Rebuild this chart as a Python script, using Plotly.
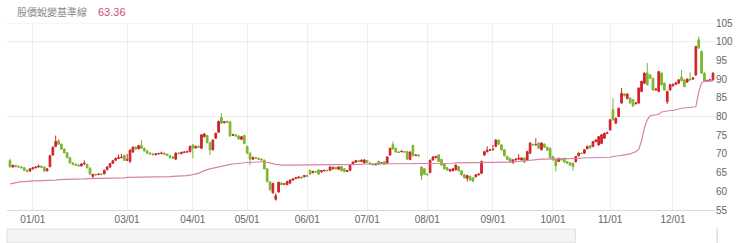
import pandas as pd
import plotly.graph_objects as go

# ---------------- data ----------------
holidays = ["2021-12-31", "2022-01-27", "2022-01-28", "2022-01-31", "2022-02-01",
            "2022-02-02", "2022-02-03", "2022-02-04", "2022-02-28", "2022-04-04",
            "2022-04-05", "2022-05-02", "2022-06-03", "2022-09-09", "2022-10-10"]

open_ = [68.2, 66.5, 66.9, 66.6, 66.5, 66.3, 65.6, 65.4, 66.0, 66.3, 66.5, 66.7, 66.5, 65.5, 66.6, 69.7, 72.0, 73.5, 72.6, 71.3,
         70.3, 69.0, 67.6, 67.2, 67.0, 66.8, 67.3, 67.2, 66.2, 64.0, 64.5, 64.5, 64.6, 64.7, 65.8, 66.5, 67.5, 68.3, 68.8, 69.0,
         69.6, 68.3, 68.0, 70.5, 71.8, 71.4, 72.2, 71.5, 70.8, 70.2, 70.0, 69.8, 70.0, 70.1, 70.2, 69.9, 69.5, 69.2, 68.6, 70.2,
         70.1, 70.4, 70.5, 70.6, 72.4, 71.6, 72.0, 71.5, 74.6, 74.9, 73.0, 71.1, 74.2, 75.8, 79.7, 78.4, 78.7, 78.6, 75.0, 75.1,
         74.8, 73.9, 74.9, 72.0, 70.2, 68.6, 69.0, 68.8, 68.6, 68.3, 66.0, 62.5, 59.6, 57.9, 59.8, 62.2, 61.9, 61.8, 62.2, 63.0,
         63.4, 63.6, 63.8, 63.9, 64.2, 65.6, 65.0, 65.3, 65.7, 65.2, 65.5, 65.6, 65.6, 66.0, 66.4, 65.9, 66.6, 66.0, 65.3, 65.6,
         67.2, 67.8, 68.2, 68.0, 67.6, 68.2, 67.6, 67.3, 67.1, 68.0, 67.5, 67.9, 67.5, 69.7, 72.5, 71.5, 70.5, 70.6, 70.6, 70.6,
         68.5, 72.2, 69.6, 69.7, 66.5, 66.0, 64.6, 65.0, 68.4, 69.0, 69.7, 68.5, 67.3, 66.3, 65.4, 65.5, 65.8, 66.6, 65.5, 64.4,
         63.5, 64.0, 63.6, 63.9, 64.4, 64.8, 69.7, 70.6, 71.0, 71.1, 72.0, 73.7, 72.4, 71.1, 69.3, 68.8, 67.6, 68.4, 68.6, 68.4,
         68.9, 68.4, 70.2, 72.5, 72.4, 72.9, 71.1, 72.6, 71.8, 71.5, 69.3, 68.5, 68.0, 68.6, 68.8, 67.9, 67.6, 67.5, 67.9, 69.5,
         70.2, 70.2, 71.4, 72.2, 72.0, 73.3, 72.4, 72.8, 74.2, 75.5, 76.4, 81.8, 78.2, 80.0, 83.6, 86.0, 84.8, 84.9, 84.5, 83.4,
         83.6, 86.7, 88.9, 91.6, 91.1, 90.2, 87.1, 86.7, 91.6, 88.9, 84.0, 87.1, 88.2, 88.6, 88.9, 90.5, 89.8, 89.2, 90.0, 90.0,
         91.1, 100.5, 97.4, 91.6, 89.5, 89.6, 89.8]

high = [68.7, 67.2, 67.1, 66.9, 66.7, 66.4, 65.8, 66.2, 66.5, 66.7, 67.2, 66.9, 66.6, 66.2, 69.8, 72.0, 74.9, 73.9, 72.8, 71.5,
        70.5, 69.2, 67.8, 67.4, 67.2, 67.5, 68.3, 67.4, 66.4, 64.7, 64.7, 64.8, 64.8, 65.8, 66.7, 67.6, 68.4, 69.0, 69.8, 70.0,
        69.8, 70.0, 71.2, 72.0, 72.0, 72.4, 73.7, 71.7, 71.0, 70.4, 70.3, 70.2, 70.3, 70.6, 70.4, 70.1, 69.7, 69.4, 70.4, 70.5,
        70.6, 70.7, 70.9, 72.2, 72.6, 72.2, 72.3, 75.3, 75.6, 75.1, 73.2, 73.9, 75.7, 78.9, 80.9, 78.8, 78.9, 78.8, 75.4, 75.3,
        75.0, 74.8, 75.1, 72.2, 70.4, 69.3, 69.2, 69.0, 68.8, 68.5, 66.2, 62.7, 62.3, 59.5, 62.6, 62.5, 62.2, 62.8, 63.2, 63.5,
        63.8, 64.0, 64.0, 64.4, 64.5, 65.8, 65.5, 65.5, 65.9, 65.7, 65.8, 65.8, 66.7, 66.6, 66.6, 66.7, 66.8, 66.2, 65.7, 67.2,
        68.0, 68.4, 68.4, 68.5, 68.6, 68.4, 67.8, 67.5, 67.5, 68.2, 67.8, 68.1, 69.4, 71.7, 73.3, 71.7, 70.7, 70.9, 70.8, 70.8,
        70.7, 72.5, 69.9, 69.9, 66.7, 66.2, 64.8, 68.5, 69.4, 69.5, 69.9, 68.7, 67.5, 66.5, 66.0, 66.2, 67.2, 66.8, 65.7, 64.6,
        64.4, 64.2, 63.8, 64.6, 64.8, 68.2, 70.8, 72.0, 71.3, 72.4, 73.9, 73.9, 72.6, 71.3, 69.5, 69.0, 68.6, 68.8, 70.0, 69.1,
        69.1, 70.8, 73.1, 72.8, 74.2, 73.1, 73.1, 72.8, 72.0, 71.7, 69.5, 68.7, 69.0, 68.8, 69.0, 68.1, 67.8, 67.7, 69.5, 70.4,
        70.4, 71.3, 72.2, 72.4, 73.5, 74.0, 74.8, 75.3, 75.7, 76.0, 79.3, 84.9, 79.7, 82.4, 87.6, 86.3, 86.3, 85.2, 84.7, 83.9,
        87.8, 89.6, 91.8, 94.3, 91.3, 90.4, 87.6, 92.2, 91.8, 89.1, 86.9, 88.7, 88.8, 89.2, 90.0, 92.5, 90.0, 90.2, 91.8, 90.5,
        98.9, 101.4, 97.6, 91.8, 89.9, 90.0, 91.8]

low = [66.2, 66.3, 66.4, 66.3, 66.1, 65.5, 65.1, 65.2, 65.8, 66.1, 66.3, 66.2, 65.2, 65.3, 66.4, 69.5, 71.8, 72.4, 71.1, 70.1,
       68.8, 67.4, 67.0, 66.8, 66.6, 66.6, 67.1, 66.1, 64.4, 63.5, 64.2, 64.3, 64.3, 64.5, 65.6, 66.3, 67.3, 68.1, 68.6, 68.8,
       68.1, 68.1, 67.5, 70.3, 71.1, 71.2, 71.3, 70.6, 70.0, 69.8, 69.6, 69.6, 69.8, 69.9, 69.7, 69.4, 68.8, 68.6, 68.4, 69.9,
       69.9, 70.2, 70.3, 70.4, 68.8, 71.4, 71.6, 71.3, 74.4, 72.8, 69.7, 70.9, 74.0, 75.6, 78.0, 78.1, 78.2, 74.6, 74.8, 74.6,
       73.8, 73.7, 72.6, 70.0, 67.0, 68.4, 68.6, 68.4, 68.2, 65.8, 62.4, 60.0, 59.4, 57.5, 59.6, 61.6, 61.7, 61.6, 62.0, 62.8,
       63.2, 63.4, 63.4, 63.7, 63.8, 64.4, 64.8, 64.9, 64.4, 65.0, 65.3, 65.3, 65.4, 65.8, 65.8, 65.7, 65.3, 65.1, 65.1, 65.4,
       67.0, 67.6, 67.8, 67.8, 67.4, 67.6, 67.1, 66.9, 66.9, 67.0, 67.3, 67.0, 67.3, 69.5, 71.1, 70.3, 70.2, 70.4, 70.3, 68.4,
       68.3, 69.3, 69.4, 69.3, 63.0, 64.4, 64.2, 64.8, 68.2, 68.8, 67.8, 66.8, 65.8, 65.5, 65.2, 65.3, 65.6, 65.3, 64.2, 63.4,
       62.6, 62.8, 62.5, 63.7, 64.2, 64.6, 69.5, 70.4, 70.8, 70.9, 71.8, 72.4, 70.9, 69.3, 68.3, 67.8, 67.4, 68.2, 68.4, 68.2,
       67.6, 68.2, 70.0, 72.2, 72.2, 71.3, 70.9, 71.6, 70.8, 68.8, 68.2, 65.3, 67.8, 68.2, 67.6, 67.3, 66.8, 65.5, 67.7, 69.3,
       69.9, 70.0, 71.2, 71.4, 71.8, 73.1, 72.2, 72.6, 74.0, 75.3, 76.2, 78.9, 78.0, 79.8, 83.4, 85.3, 84.6, 83.4, 82.6, 83.2,
       83.4, 86.5, 88.7, 88.3, 90.0, 86.9, 86.9, 86.5, 88.3, 86.9, 83.3, 86.9, 88.0, 88.4, 88.7, 89.4, 87.8, 89.0, 89.6, 89.8,
       90.9, 98.1, 91.4, 89.2, 89.3, 89.4, 89.6]

close = [66.6, 66.9, 66.6, 66.5, 66.3, 65.6, 65.3, 66.0, 66.3, 66.5, 66.7, 66.4, 65.4, 66.0, 69.5, 71.8, 73.3, 72.6, 71.3, 70.3,
         69.0, 67.6, 67.2, 67.0, 66.8, 67.3, 67.5, 66.3, 64.6, 64.5, 64.4, 64.6, 64.5, 65.6, 66.5, 67.4, 68.2, 68.8, 69.0, 69.1,
         68.3, 68.4, 71.0, 71.8, 71.3, 72.2, 71.5, 70.8, 70.2, 70.0, 69.8, 70.0, 70.1, 70.2, 69.9, 69.6, 69.0, 68.8, 70.2, 70.1,
         70.4, 70.5, 70.6, 72.0, 71.5, 72.0, 71.8, 75.1, 75.3, 73.0, 71.1, 73.7, 75.5, 78.7, 78.2, 78.6, 78.4, 74.8, 75.1, 74.8,
         74.0, 74.6, 72.8, 70.2, 68.6, 69.0, 68.8, 68.6, 68.4, 66.0, 62.6, 60.5, 62.1, 58.8, 62.4, 61.8, 62.0, 62.6, 63.0, 63.3,
         63.6, 63.8, 63.6, 64.2, 64.0, 64.6, 65.3, 65.2, 64.6, 65.5, 65.6, 65.5, 66.5, 66.4, 66.0, 66.5, 65.5, 65.3, 65.5, 67.0,
         67.8, 68.2, 68.0, 68.3, 68.4, 67.8, 67.3, 67.1, 67.3, 67.2, 67.6, 67.2, 69.2, 71.5, 71.3, 70.5, 70.4, 70.7, 70.5, 68.6,
         70.5, 69.5, 69.7, 69.5, 64.2, 64.6, 64.4, 68.3, 69.2, 69.3, 68.0, 67.0, 66.0, 65.7, 65.8, 66.0, 67.0, 65.5, 64.4, 63.6,
         64.2, 63.0, 62.7, 64.4, 64.6, 68.0, 70.6, 71.0, 71.1, 71.2, 73.7, 72.6, 71.1, 69.5, 68.5, 68.0, 68.4, 68.6, 68.8, 68.9,
         67.8, 70.6, 72.9, 72.4, 72.5, 71.5, 72.9, 71.8, 71.0, 69.0, 68.4, 66.8, 68.8, 68.4, 67.8, 67.5, 67.0, 66.6, 69.3, 70.2,
         70.1, 71.1, 72.0, 71.6, 73.3, 73.7, 74.6, 75.1, 75.5, 75.6, 79.1, 79.1, 79.5, 82.2, 86.2, 85.6, 86.0, 83.6, 82.8, 83.6,
         87.6, 89.4, 91.6, 88.5, 90.2, 87.1, 87.3, 92.0, 88.5, 87.1, 86.7, 88.5, 88.6, 89.0, 89.8, 89.6, 88.0, 90.0, 89.8, 90.3,
         98.7, 98.3, 91.6, 89.4, 89.6, 89.8, 91.6]

baseline = [62.0, 62.2, 62.4, 62.5, 62.6, 62.6,
            62.7, 62.7, 62.8, 62.8, 62.8, 62.9, 62.9, 62.9, 63.0, 63.0, 63.0, 63.1, 63.1, 63.1, 63.2,
            63.2, 63.2, 63.3, 63.3, 63.3, 63.3, 63.4, 63.4, 63.4,
            63.4, 63.5, 63.5, 63.5, 63.5, 63.5, 63.6, 63.6, 63.6, 63.6, 63.6, 63.7, 63.7,
            63.7, 63.7, 63.7, 63.7, 63.8, 63.8, 63.8, 63.8, 63.8, 63.9, 63.9, 63.9, 63.9,
            63.9, 64.0, 64.0, 64.0, 64.1, 64.1, 64.2, 64.3,
            64.4, 64.6, 64.8,
            65.2, 65.6, 65.8,
            66.0, 66.2, 66.4, 66.6, 66.8, 67.0,
            67.1, 67.2, 67.3, 67.4, 67.5,
            67.6, 67.7, 67.7, 67.7, 67.8,
            67.8, 67.8, 67.9, 67.9,
            67.8, 67.6, 67.4, 67.2, 67.0,
            67.0, 67.0, 67.0, 67.0, 67.0, 67.0, 67.0, 67.0, 67.0, 67.0, 67.0, 67.0,
            67.1, 67.1, 67.1, 67.1, 67.1, 67.1, 67.1, 67.1, 67.1,
            67.1, 67.1, 67.1, 67.1, 67.2, 67.2, 67.2, 67.2, 67.3, 67.3, 67.3, 67.3,
            67.3, 67.3, 67.3, 67.3, 67.3, 67.4, 67.4, 67.4, 67.4, 67.4, 67.4, 67.4, 67.4,
            67.5, 67.5, 67.5, 67.5, 67.5, 67.5, 67.5, 67.5, 67.5, 67.5,
            67.5, 67.5, 67.5, 67.5, 67.5, 67.6, 67.6, 67.6, 67.6, 67.6, 67.6, 67.6, 67.6, 67.6, 67.6,
            67.7, 67.7, 67.7, 67.7, 67.7, 67.7, 67.7, 67.7, 67.7, 67.7,
            67.8, 67.9, 68.0, 68.1, 68.2, 68.3, 68.4,
            68.5, 68.5, 68.5, 68.6, 68.6, 68.6, 68.6, 68.7, 68.7, 68.7, 68.7, 68.8, 68.8, 68.8,
            68.8, 68.8, 68.8, 68.9, 68.9, 68.9, 68.9, 69.0, 69.0, 69.0, 69.0, 69.1, 69.1, 69.1,
            69.3, 69.5, 69.5, 69.6, 69.7, 69.8, 70.0,
            70.3, 70.6, 71.2,
            73.5, 77.0, 79.1, 80.2, 80.4,
            80.5, 80.6, 81.2, 81.4,
            81.5, 81.6, 81.6, 81.7, 82.0, 82.2,
            82.3, 82.4, 82.5, 82.5, 82.6,
            86.5, 89.0, 89.4, 89.4, 89.5, 89.5]

tick_dates = ["2022-01-03", "2022-03-01", "2022-04-01", "2022-05-03", "2022-06-01", "2022-07-01",
              "2022-08-01", "2022-09-01", "2022-10-03", "2022-11-01", "2022-12-01"]
tick_text = ["01/01", "03/01", "04/01", "05/01", "06/01", "07/01",
             "08/01", "09/01", "10/01", "11/01", "12/01"]
y_ticks = [55, 60, 65, 70, 75, 80, 85, 90, 95, 100, 105]

title_text = "股價蛻變基準線"
title_value = "63.36"

# ---------------- build ----------------
hol = set(pd.to_datetime(holidays))
dates = [d.strftime("%Y-%m-%d") for d in pd.bdate_range("2021-12-21", "2022-12-21") if d not in hol]
n = len(close)
assert len(open_) == n and len(high) == n and len(low) == n and len(baseline) == n, (len(open_), len(high), len(low), len(close), len(baseline))
dates = dates[:n]

RED = "#d0232b"
GREEN = "#7db530"
PINK = "#d683a6"

fig = go.Figure()
fig.add_trace(go.Candlestick(
    x=dates, open=open_, high=high, low=low, close=close,
    increasing=dict(line=dict(color=RED, width=1), fillcolor=RED),
    decreasing=dict(line=dict(color=GREEN, width=1), fillcolor=GREEN),
    whiskerwidth=0, showlegend=False, hoverinfo="skip",
))
fig.add_trace(go.Scatter(
    x=dates, y=baseline, mode="lines", line=dict(color=PINK, width=1.2),
    showlegend=False, hoverinfo="skip",
))

shapes = []
for yv in [105, 100, 80]:
    shapes.append(dict(type="line", xref="paper", yref="y", x0=0, x1=1, y0=yv, y1=yv,
                       line=dict(color="#ececec", width=1), layer="below"))
# navigator strip under the chart
shapes.append(dict(type="rect", xref="paper", yref="paper", x0=0.0, x1=0.803, y0=-0.176, y1=-0.102,
                   fillcolor="#f4f4f4", line=dict(color="#e0e0e0", width=1), layer="below"))
shapes.append(dict(type="line", xref="paper", yref="paper", x0=1.003, x1=1.003, y0=-0.176, y1=-0.095,
                   line=dict(color="#cccccc", width=1)))

fig.update_layout(
    width=740, height=243,
    margin=dict(l=7, r=20, t=23, b=33),
    paper_bgcolor="white", plot_bgcolor="white",
    font=dict(family="Liberation Sans, Arial, sans-serif", size=10, color="#666666"),
    shapes=shapes,
    hovermode=False,
    boxgap=0.15,
    annotations=[
        dict(text=title_text, xref="paper", yref="paper", x=(15 - 7) / 713, y=1 + (23 - 12) / 187,
             xanchor="left", yanchor="middle", showarrow=False,
             font=dict(family="Noto Sans CJK TC, sans-serif", size=10, color="#8a8a8a")),
        dict(text=title_value, xref="paper", yref="paper", x=(97 - 7) / 713, y=1 + (23 - 12) / 187,
             xanchor="left", yanchor="middle", showarrow=False,
             font=dict(family="Liberation Sans, Arial, sans-serif", size=11, color="#c8507f")),
    ],
)
fig.update_xaxes(
    type="category", range=[-1.04, 246.7],
    tickmode="array", tickvals=tick_dates, ticktext=tick_text,
    showgrid=True, gridcolor="#eeeeee", gridwidth=1,
    showline=True, linecolor="#d9d9d9", linewidth=1,
    ticks="", zeroline=False, rangeslider=dict(visible=False),
    tickfont=dict(size=10, color="#666666"), fixedrange=True,
)
fig.update_yaxes(
    side="right", range=[55, 105], tickmode="array", tickvals=y_ticks,
    showgrid=False, zeroline=False, showline=False, ticks="",
    tickfont=dict(size=10, color="#666666"), fixedrange=True,
)

fig.write_html("out.html", config={"displayModeBar": False})
